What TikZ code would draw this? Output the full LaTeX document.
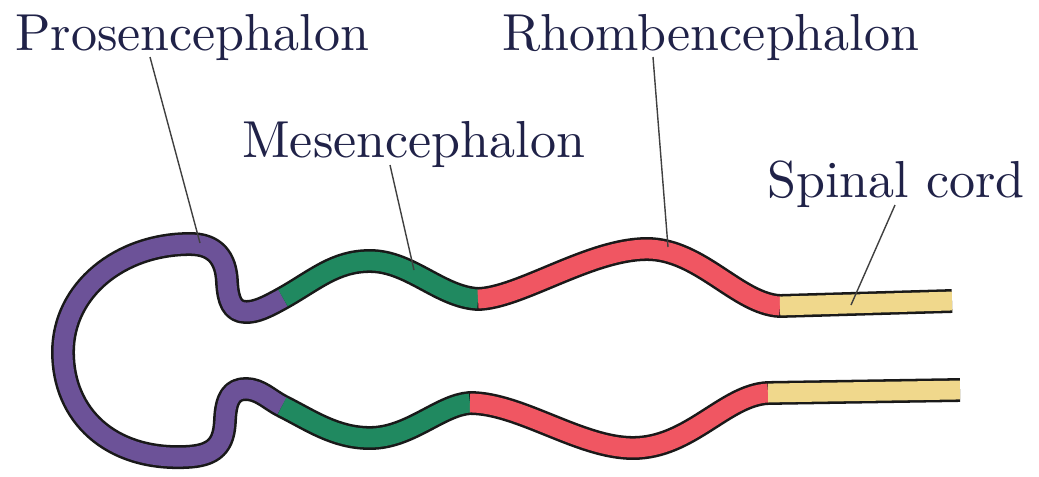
\documentclass[tikz,border=0pt]{standalone}
\usepackage{fontspec}
\usepackage{tikz}
\usetikzlibrary{calc}
\newfontfamily\labelfont{lmroman10-regular.otf}
\definecolor{prosenviolet}{RGB}{108,82,152}
\definecolor{mesengreen}{RGB}{32,137,96}
\definecolor{rhombenred}{RGB}{240,86,98}
\definecolor{spinalyellow}{RGB}{240,216,140}
\definecolor{labelink}{RGB}{32,34,72}

\begin{document}
\begin{tikzpicture}[x=0.025cm,y=-0.025cm,
    wall/.style={line width=17pt,black!90,line join=round},
    lumen/.style={line width=13.4pt},
    leader/.style={line width=1pt,black!75},
    label/.style={anchor=base west,inner sep=0pt,text=labelink,font=\labelfont\fontsize{37}{40}\selectfont}]
  \useasboundingbox (0,0) rectangle (1039,476);
  % black wall of the neural tube, one piece from tail to tail
  \draw[wall] (952,301) -- (780,306)
    .. controls (738,304) and (700,249) .. (647,249)
    .. controls (590,249) and (520,298) .. (478,299)
    .. controls (440,297) and (410,261) .. (370,261)
    .. controls (335,261) and (315,280) .. (283,298)
    .. controls (265,308) and (256,312) .. (246,312)
    .. controls (232,312) and (228,300) .. (227,282)
    .. controls (226,258) and (215,244) .. (190,244)
    .. controls (120,244) and (63,290) .. (63,352)
    .. controls (63,415) and (110,460) .. (185,457)
    .. controls (215,456) and (224,445) .. (225,420)
    .. controls (226,398) and (232,389) .. (246,389)
    .. controls (260,389) and (270,400) .. (282,406)
    .. controls (310,420) and (335,438) .. (370,438)
    .. controls (410,438) and (440,405) .. (470,403)
    .. controls (520,403) and (580,448) .. (633,448)
    .. controls (690,448) and (725,395) .. (768,393)
    -- (960,390);
  % coloured regions
  \draw[lumen,prosenviolet] (283,298)
    .. controls (265,308) and (256,312) .. (246,312)
    .. controls (232,312) and (228,300) .. (227,282)
    .. controls (226,258) and (215,244) .. (190,244)
    .. controls (120,244) and (63,290) .. (63,352)
    .. controls (63,415) and (110,460) .. (185,457)
    .. controls (215,456) and (224,445) .. (225,420)
    .. controls (226,398) and (232,389) .. (246,389)
    .. controls (260,389) and (270,400) .. (282,406);
  \draw[lumen,mesengreen] (478,299)
    .. controls (440,297) and (410,261) .. (370,261)
    .. controls (335,261) and (315,280) .. (283,298);
  \draw[lumen,mesengreen] (282,406)
    .. controls (310,420) and (335,438) .. (370,438)
    .. controls (410,438) and (440,405) .. (470,403);
  \draw[lumen,rhombenred] (780,306)
    .. controls (738,304) and (700,249) .. (647,249)
    .. controls (590,249) and (520,298) .. (478,299);
  \draw[lumen,rhombenred] (470,403)
    .. controls (520,403) and (580,448) .. (633,448)
    .. controls (690,448) and (725,395) .. (768,393);
  \draw[lumen,spinalyellow] (952,301) -- (780,306);
  \draw[lumen,spinalyellow] (768,393) -- (960,390);

  \node[label] (prosen) at (15,50) {Prosencephalon};
  \node[label] (mesen) at (242,157) {Mesencephalon};
  \node[label] (rhomben) at (502,50) {Rhombencephalon};
  \node[label] (spinal) at (767,197) {Spinal cord};

  \coordinate (prosen-tip) at (200,243);
  \coordinate (mesen-tip) at (414,270);
  \coordinate (rhomben-tip) at (668,247);
  \coordinate (spinal-tip) at (851,305);
  \draw[leader] ($(prosen.base west)+(135,7)$) -- (prosen-tip);
  \draw[leader] ($(mesen.base west)+(148,8)$) -- (mesen-tip);
  \draw[leader] ($(rhomben.base west)+(151,7)$) -- (rhomben-tip);
  \draw[leader] ($(spinal.base west)+(128,8)$) -- (spinal-tip);
\end{tikzpicture}
\end{document}
